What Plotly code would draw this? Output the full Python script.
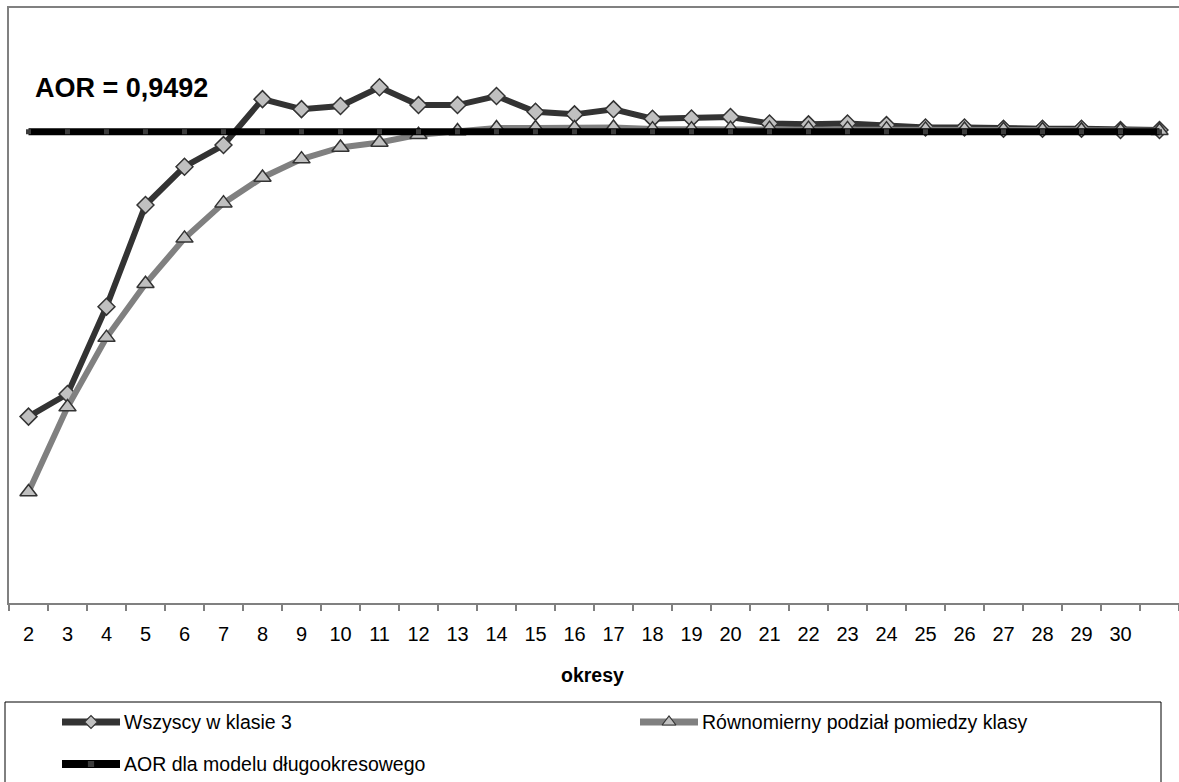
import plotly.graph_objects as go

# ---------------- data ----------------
okresy = ["2", "3", "4", "5", "6", "7", "8", "9", "10", "11", "12", "13", "14", "15", "16",
          "17", "18", "19", "20", "21", "22", "23", "24", "25", "26", "27", "28", "29", "30", "31"]
tick_labels = ["2", "3", "4", "5", "6", "7", "8", "9", "10", "11", "12", "13", "14", "15", "16",
               "17", "18", "19", "20", "21", "22", "23", "24", "25", "26", "27", "28", "29", "30", ""]

wszyscy_w_klasie_3 = [0.8295, 0.8390, 0.8757, 0.9184, 0.9345, 0.9436, 0.9629, 0.9587, 0.9600, 0.9679,
                      0.9604, 0.9604, 0.9642, 0.9576, 0.9565, 0.9586, 0.9547, 0.9548, 0.9554, 0.9527,
                      0.9523, 0.9527, 0.9520, 0.9510, 0.9510, 0.9505, 0.9505, 0.9505, 0.9499, 0.9499]

rownomierny_podzial = [0.7978, 0.8335, 0.8627, 0.8853, 0.9044, 0.9192, 0.9300, 0.9377, 0.9426, 0.9447,
                       0.9479, 0.9495, 0.9508, 0.9508, 0.9508, 0.9510, 0.9503, 0.9503, 0.9505, 0.9505,
                       0.9505, 0.9504, 0.9503, 0.9502, 0.9501, 0.9500, 0.9499, 0.9498, 0.9497, 0.9496]

aor_dlugookresowy = [0.9492, 0.9492, 0.9492, 0.9492, 0.9492, 0.9492, 0.9492, 0.9492, 0.9492, 0.9492,
                     0.9492, 0.9492, 0.9492, 0.9492, 0.9492, 0.9492, 0.9492, 0.9492, 0.9492, 0.9492,
                     0.9492, 0.9492, 0.9492, 0.9492, 0.9492, 0.9492, 0.9492, 0.9492, 0.9492, 0.9492]

series_names = ["Wszyscy w klasie 3", "Równomierny podział pomiedzy klasy", "AOR dla modelu długookresowego"]
aor_label = "AOR = 0,9492"
x_title = "okresy"

# ---------------- styles ----------------
W, H = 1179, 782
FONT = "Arial, Liberation Sans, sans-serif"
DARK = "#333333"
GREY = "#808080"
FILL = "#c0c0c0"

fig = go.Figure()

fig.add_trace(go.Scatter(
    x=okresy, y=wszyscy_w_klasie_3, mode="lines+markers", name=series_names[0],
    line=dict(color=DARK, width=6),
    marker=dict(symbol="diamond", size=13, color=FILL, line=dict(color=DARK, width=1.5)),
    showlegend=False, xaxis="x", yaxis="y"))

fig.add_trace(go.Scatter(
    x=okresy, y=rownomierny_podzial, mode="lines+markers", name=series_names[1],
    line=dict(color=GREY, width=6),
    marker=dict(symbol="triangle-up", size=15, color=FILL, line=dict(color=DARK, width=1.5)),
    showlegend=False, xaxis="x", yaxis="y"))

fig.add_trace(go.Scatter(
    x=okresy, y=aor_dlugookresowy, mode="lines+markers", name=series_names[2],
    line=dict(color="#000000", width=7),
    marker=dict(symbol="square", size=5, color="#3c3c3c"),
    showlegend=False, xaxis="x", yaxis="y"))

# ---------------- custom legend (overlay pixel axes) ----------------
leg_rows = [(62, 120, 722), (640, 698, 722), (62, 120, 764)]
leg_styles = [
    dict(lc=DARK, lw=7, sym="diamond", ms=10, mc=FILL, ml=DARK),
    dict(lc=GREY, lw=7, sym="triangle-up", ms=12, mc=FILL, ml=DARK),
    dict(lc="#000000", lw=8, sym="square", ms=5, mc="#3c3c3c", ml="#3c3c3c"),
]
for (x0, x1, yy), st, name in zip(leg_rows, leg_styles, series_names):
    fig.add_trace(go.Scatter(x=[x0, x1], y=[yy, yy], mode="lines",
                             line=dict(color=st["lc"], width=st["lw"]),
                             showlegend=False, hoverinfo="skip", xaxis="x2", yaxis="y2"))
    fig.add_trace(go.Scatter(x=[(x0 + x1) / 2], y=[yy], mode="markers",
                             marker=dict(symbol=st["sym"], size=st["ms"], color=st["mc"],
                                         line=dict(color=st["ml"], width=1.2)),
                             showlegend=False, hoverinfo="skip", xaxis="x2", yaxis="y2"))
    fig.add_annotation(x=x1 + 2, y=yy, xref="x2", yref="y2", text=name, showarrow=False,
                       xanchor="left", yanchor="middle",
                       font=dict(family=FONT, size=19.5, color="#000000"))

fig.add_shape(type="rect", xref="x2", yref="y2", x0=5, x1=1161, y0=702, y1=820,
              line=dict(color="#000000", width=1), fillcolor="rgba(0,0,0,0)", layer="below")

# AOR label
fig.add_annotation(x=33, y=88, xref="x2", yref="y2", text="<b>" + aor_label + "</b>", showarrow=False,
                   xanchor="left", yanchor="middle", font=dict(family=FONT, size=27, color="#000000"))
# x-axis title
fig.add_annotation(x=592, y=675, xref="x2", yref="y2", text="<b>" + x_title + "</b>", showarrow=False,
                   xanchor="center", yanchor="middle", font=dict(family=FONT, size=19.5, color="#000000"))

fig.update_layout(
    width=W, height=H,
    margin=dict(l=0, r=0, t=0, b=0),
    paper_bgcolor="white", plot_bgcolor="rgba(0,0,0,0)",
    font=dict(family=FONT, color="#000000"),
    showlegend=False,
    xaxis=dict(
        type="category", domain=[9 / W, 1.0], range=[-0.5, len(okresy) - 0.5],
        tickmode="array", tickvals=okresy, ticktext=tick_labels,
        tickson="boundaries", ticks="outside", ticklen=6, tickcolor=GREY, tickwidth=1.5,
        ticklabelstandoff=12,
        showline=True, linecolor=GREY, linewidth=2, mirror=True,
        showgrid=False, zeroline=False,
        tickfont=dict(family=FONT, size=20, color="#000000"),
        anchor="y", fixedrange=True),
    yaxis=dict(
        domain=[(H - 602.5) / H, 1 - 7.5 / H], range=[0.7514, 1.0014],
        showline=True, linecolor=GREY, linewidth=2,
        showticklabels=False, ticks="", showgrid=False, zeroline=False,
        anchor="x", fixedrange=True),
    xaxis2=dict(domain=[0, 1], range=[0, W], visible=False, anchor="y2", fixedrange=True),
    yaxis2=dict(domain=[0, 1], range=[H, 0], visible=False, anchor="x2", fixedrange=True),
)

fig.write_html("out.html")
